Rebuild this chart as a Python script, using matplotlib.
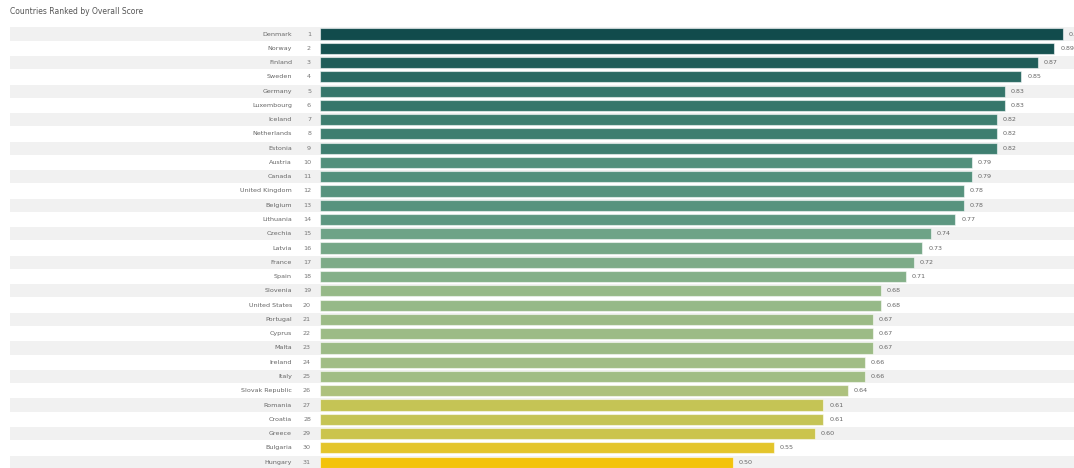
import matplotlib.pyplot as plt
import numpy as np
from matplotlib.colors import LinearSegmentedColormap

countries = ["Denmark", "Norway", "Finland", "Sweden", "Germany", "Luxembourg",
             "Iceland", "Netherlands", "Estonia", "Austria", "Canada",
             "United Kingdom", "Belgium", "Lithuania", "Czechia", "Latvia",
             "France", "Spain", "Slovenia", "United States", "Portugal",
             "Cyprus", "Malta", "Ireland", "Italy", "Slovak Republic",
             "Romania", "Croatia", "Greece", "Bulgaria", "Hungary"]
ranks = list(range(1, 32))
scores = [0.90, 0.89, 0.87, 0.85, 0.83, 0.83, 0.82, 0.82, 0.82, 0.79, 0.79,
          0.78, 0.78, 0.77, 0.74, 0.73, 0.72, 0.71, 0.68, 0.68, 0.67, 0.67,
          0.67, 0.66, 0.66, 0.64, 0.61, 0.61, 0.60, 0.55, 0.50]

W, H = 1074, 468
fig = plt.figure(figsize=(W / 100, H / 100), dpi=100)

# row geometry in pixels
row0, step = 34.0, 14.27
n = len(countries)
top_px = row0 - step / 2
bot_px = row0 + (n - 0.5) * step


def fy(px):
    return 1 - px / H


# background axes: stripes and row labels
bg = fig.add_axes([10 / W, fy(bot_px), 1 - 10 / W, fy(top_px) - fy(bot_px)])
bg.set_xlim(10, W)
bg.set_ylim(n - 0.5, -0.5)
bg.axis("off")
for i in range(0, n, 2):
    bg.barh(i, W - 10, left=10, height=0.92, color="#f1f1f1", linewidth=0)
for i, (c, r) in enumerate(zip(countries, ranks)):
    bg.text(292, i, c, ha="right", va="center", fontsize=4.6, color="#666666")
    bg.text(311, i, str(r), ha="right", va="center", fontsize=4.6, color="#777777")

# bar axes, 0 at x=320 px
scale = 825.0
ax = fig.add_axes([320 / W, fy(bot_px), (W - 320) / W, fy(top_px) - fy(bot_px)])
ax.set_xlim(0, (W - 320) / scale)
ax.set_ylim(n - 0.5, -0.5)
ax.axis("off")
ax.patch.set_alpha(0)

cmap = LinearSegmentedColormap.from_list(
    "score", [(0.0, "#f3c30a"), (0.13, "#e3c52c"), (0.27, "#c6c453"),
              (0.36, "#a9c183"), (0.50, "#8cb48a"), (0.62, "#689f86"),
              (0.75, "#4d8c7a"), (0.85, "#2f6f66"), (1.0, "#114b4c")])
vals = np.array(scores)
colors = cmap((vals - 0.50) / 0.40)

ax.barh(range(n), scores, height=0.78, color=colors,
        edgecolor=(1, 1, 1, 0.55), linewidth=0.8)
for i, v in enumerate(scores):
    ax.text(v + 6 / scale, i, f"{v:.2f}", ha="left", va="center",
            fontsize=4.6, color="#666666", clip_on=False)

fig.text(10 / W, fy(12), "Countries Ranked by Overall Score", ha="left",
         va="center", fontsize=5.5, color="#555555")

fig.savefig("out.png", dpi=100)
